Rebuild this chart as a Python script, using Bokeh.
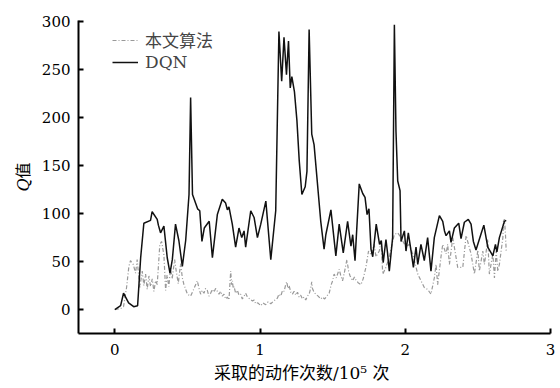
from bokeh.plotting import figure
from bokeh.models import Range1d, Legend, LegendItem, FixedTicker
from bokeh.embed import file_html
from bokeh.resources import INLINE

# Actions sampled (unit: 1e5) and Q values for the two methods
dqn_x = [0.00, 0.04, 0.06, 0.095, 0.13, 0.157, 0.178, 0.20, 0.246, 0.257, 0.292, 0.30,
         0.315, 0.338, 0.361, 0.38, 0.396, 0.418, 0.441, 0.465, 0.488, 0.511, 0.522, 0.535,
         0.57, 0.585, 0.60, 0.616, 0.65, 0.672, 0.706, 0.74, 0.763, 0.775, 0.786, 0.809,
         0.832, 0.855, 0.874, 0.89, 0.901, 0.936, 0.959, 0.982, 1.005, 1.04, 1.074, 1.108,
         1.13, 1.149, 1.165, 1.182, 1.196, 1.208, 1.219, 1.237, 1.254, 1.27, 1.288, 1.311,
         1.323, 1.338, 1.356, 1.372, 1.418, 1.441, 1.453, 1.488, 1.522, 1.545, 1.573, 1.603,
         1.626, 1.638, 1.654, 1.683, 1.707, 1.723, 1.737, 1.75, 1.764, 1.776, 1.80, 1.823,
         1.835, 1.848, 1.867, 1.878, 1.89, 1.913, 1.925, 1.936, 1.948, 1.964, 1.971, 1.994,
         2.005, 2.021, 2.04, 2.056, 2.074, 2.086, 2.108, 2.131, 2.154, 2.177, 2.2, 2.235,
         2.258, 2.27, 2.281, 2.304, 2.315, 2.338, 2.368, 2.384, 2.407, 2.434, 2.453, 2.469,
         2.487, 2.522, 2.541, 2.568, 2.603, 2.621, 2.631, 2.648, 2.683, 2.695]
dqn_q = [0, 4, 17, 7, 3, 4, 54, 90, 93, 102, 94, 88,
         80, 87, 54, 38, 52, 89, 72, 45, 72, 120, 221, 120,
         105, 103, 71, 85, 92, 54, 99, 115, 111, 104, 107, 89,
         65, 85, 75, 82, 65, 103, 96, 75, 89, 113, 52, 103,
         290, 238, 284, 245, 280, 231, 243, 227, 197, 155, 120, 128,
         144, 292, 183, 172, 92, 63, 78, 104, 56, 89, 59, 92,
         66, 78, 51, 131, 121, 117, 99, 105, 63, 55, 89, 68,
         72, 49, 73, 59, 40, 75, 297, 186, 134, 124, 71, 82,
         61, 80, 61, 44, 65, 47, 68, 51, 75, 40, 75, 98,
         92, 82, 77, 82, 70, 85, 90, 74, 91, 94, 89, 71,
         62, 79, 88, 65, 56, 68, 60, 75, 92, 93]

ours_x = [0.00, 0.04, 0.06, 0.081, 0.097, 0.108, 0.127, 0.143, 0.154, 0.172, 0.189, 0.20,
          0.212, 0.223, 0.235, 0.246, 0.258, 0.269, 0.281, 0.292, 0.31, 0.322, 0.338, 0.35,
          0.36, 0.372, 0.384, 0.395, 0.412, 0.423, 0.437, 0.453, 0.465, 0.476, 0.50, 0.522,
          0.54, 0.568, 0.58,
          0.591, 0.602, 0.614, 0.625, 0.637, 0.648, 0.66, 0.671, 0.683, 0.694, 0.706, 0.717,
          0.729, 0.74, 0.752, 0.763, 0.775, 0.786, 0.798, 0.804, 0.81, 0.815, 0.821, 0.832,
          0.844, 0.855, 0.867, 0.878, 0.89, 0.901, 0.913, 0.93, 0.948, 0.96, 0.97, 0.985,
          1.005, 1.02, 1.039, 1.055, 1.074, 1.095, 1.12, 1.13, 1.143, 1.155, 1.166, 1.175,
          1.184, 1.192, 1.20, 1.212, 1.223, 1.235, 1.246, 1.258, 1.269, 1.28, 1.292, 1.303,
          1.315, 1.326, 1.338, 1.35, 1.356, 1.361, 1.372, 1.384,
          1.40, 1.418, 1.43, 1.445, 1.46, 1.476, 1.49, 1.50, 1.51, 1.525, 1.545, 1.555,
          1.568, 1.58, 1.598, 1.61, 1.62, 1.638, 1.65, 1.66, 1.675, 1.695, 1.71,
          1.729, 1.747, 1.766, 1.786, 1.798, 1.821, 1.833, 1.845, 1.867, 1.89, 1.924, 1.948,
          1.97, 2.005, 2.028, 2.051, 2.086, 2.108, 2.131, 2.154, 2.177, 2.20, 2.212, 2.223,
          2.246, 2.258, 2.281, 2.292, 2.304, 2.327, 2.361, 2.396, 2.419, 2.453, 2.476, 2.50,
          2.51, 2.534, 2.545, 2.568, 2.579, 2.603, 2.614, 2.626, 2.637, 2.648, 2.672, 2.676,
          2.683, 2.69, 2.695]
ours_q = [0, 1, 3, 23, 45, 51, 47, 38, 52, 23, 40, 25,
          37, 21, 35, 24, 32, 19, 30, 26, 68, 71, 57, 20,
          36, 24, 43, 32, 52, 40, 27, 48, 33, 26, 16, 14,
          20, 30, 22,
          16, 20, 17, 22, 20, 14, 17, 21, 18, 22, 19, 16,
          19, 14, 16, 11, 13, 10, 40, 26, 30, 22, 24, 17,
          20, 15, 16, 11, 14, 17, 13, 11, 9, 10, 6, 7,
          4, 7, 5, 8, 6, 9, 12, 16, 14, 20, 19, 25,
          29, 22, 25, 18, 16, 19, 15, 18, 13, 15, 11, 13,
          10, 14, 16, 23, 29, 22, 18, 16,
          14, 11, 13, 11, 14, 17, 26, 30, 37, 33, 42, 36,
          30, 38, 52, 40, 35, 30, 34, 31, 28, 26, 32,
          44, 61, 57, 68, 55, 61, 71, 37, 44, 55, 78, 80,
          75, 65, 68, 58, 37, 30, 23, 21, 16, 33, 47, 26,
          55, 68, 58, 68, 47, 75, 44, 44, 77, 58, 37, 62,
          40, 61, 47, 73, 37, 58, 33, 61, 40, 47, 75, 92,
          94, 78, 61]

x_ticks = [0, 1, 2, 3]
y_ticks = [0, 50, 100, 150, 200, 250, 300]

SERIF = "DejaVu Serif, Noto Sans CJK SC"

p = figure(width=560, height=388, output_backend="svg", toolbar_location=None,
           x_range=Range1d(-0.25, 3.0), y_range=Range1d(-25, 301.4),
           min_border_left=78, min_border_right=10, min_border_top=20, min_border_bottom=55)
p.outline_line_color = None
p.grid.visible = False
p.background_fill_color = "white"

r_ours = p.line(ours_x, ours_q, line_color="#999999", line_width=1.2, line_dash="4 2 1 2")
r_dqn = p.line(dqn_x, dqn_q, line_color="#111111", line_width=1.5)

for ax in (p.xaxis[0], p.yaxis[0]):
    ax.axis_line_width = 2
    ax.axis_line_color = "black"
    ax.major_tick_in = 5
    ax.major_tick_out = 0
    ax.major_tick_line_width = 2
    ax.minor_tick_line_color = None
    ax.major_label_text_font = "DejaVu Serif"
    ax.major_label_text_font_size = "15px"
    ax.major_label_text_color = "black"
    ax.axis_label_text_font = SERIF
    ax.axis_label_text_font_style = "normal"
    ax.axis_label_text_color = "black"

p.xaxis.ticker = FixedTicker(ticks=x_ticks)
p.yaxis.ticker = FixedTicker(ticks=y_ticks)
p.xaxis.major_label_standoff = 10
p.yaxis.major_label_standoff = 8

# the em/en spaces nudge the centred title a little to the left
p.xaxis.axis_label = "采取的动作次数/10⁵ 次\u2003\u2002"
p.xaxis.axis_label_text_font_size = "17px"
p.xaxis.axis_label_standoff = 5
p.yaxis.axis_label = "\U0001D444值"
p.yaxis.axis_label_text_font_size = "16px"
p.yaxis.axis_label_standoff = 6

legend = Legend(items=[LegendItem(label="本文算法", renderers=[r_ours]),
                       LegendItem(label="DQN", renderers=[r_dqn])],
                location=(34, 261), padding=0, spacing=0, margin=0,
                glyph_width=26, glyph_height=20, label_height=20, label_standoff=7,
                label_text_font=SERIF, label_text_font_size="17px",
                border_line_color=None, background_fill_alpha=0)
p.add_layout(legend)

open("out.html", "w").write(file_html(p, INLINE))
